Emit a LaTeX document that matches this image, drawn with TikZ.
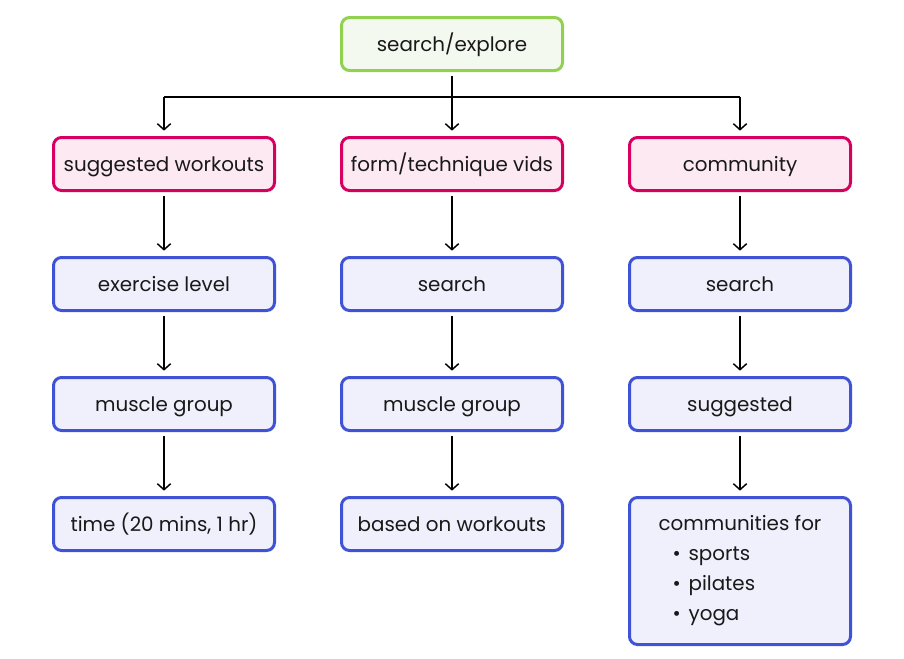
\documentclass[tikz,border=0pt]{standalone}
\usepackage{fontspec}
\setmainfont{Poppins}
\usetikzlibrary{arrows.meta}
\definecolor{gborder}{RGB}{146,208,80}
\definecolor{gfill}{RGB}{244,249,239}
\definecolor{pborder}{RGB}{214,0,94}
\definecolor{pfill}{RGB}{252,233,241}
\definecolor{bborder}{RGB}{64,82,214}
\definecolor{bfill}{RGB}{239,240,252}
\tikzset{
  box/.style={rounded corners=6pt, line width=2.25pt, minimum width=165.75pt, minimum height=39.75pt,
    inner sep=0pt, font=\fontsize{14.9}{22.5}\selectfont, text=black!90},
  onebox/.style={text height=14pt, text depth=2.75pt},
  gbox/.style={box, onebox, draw=gborder, fill=gfill},
  pbox/.style={box, onebox, draw=pborder, fill=pfill},
  bbox/.style={box, onebox, draw=bborder, fill=bfill},
  listbox/.style={box, draw=bborder, fill=bfill},
  conn/.style={line width=1.1pt, -{Straight Barb[length=4.5pt,width=10pt,line width=1.1pt]}, shorten <=3pt, shorten >=4pt},
  plain/.style={line width=1.1pt}
}
\begin{document}
\begin{tikzpicture}[x=0.75pt,y=-0.75pt]
\useasboundingbox (0,0) rectangle (904,658);
\node[gbox] (top) at (452,44) {search/explore};
\node[pbox] (l1) at (164,164) {suggested workouts};
\node[pbox] (m1) at (452,164) {form/technique vids};
\node[pbox] (r1) at (740,164) {community};
\node[bbox] (l2) at (164,284) {exercise level};
\node[bbox] (m2) at (452,284) {search};
\node[bbox] (r2) at (740,284) {search};
\node[bbox] (l3) at (164,404) {muscle group};
\node[bbox] (m3) at (452,404) {muscle group};
\node[bbox] (r3) at (740,404) {suggested};
\node[bbox] (l4) at (164,524) {time (20 mins, 1 hr)};
\node[bbox] (m4) at (452,524) {based on workouts};
\node[listbox, minimum height=110.25pt, align=left] (r4) at (740,571) {communities for\\
\hspace*{10.5pt}\makebox[12pt][l]{•}sports\\
\hspace*{10.5pt}\makebox[12pt][l]{•}pilates\\
\hspace*{10.5pt}\makebox[12pt][l]{•}yoga};
\coordinate (bus) at (452,97);
\coordinate (busl) at (164,97);
\coordinate (busr) at (740,97);
\draw[plain, shorten <=3pt] (top.south) -- (bus);
\draw[plain] (busl) -- (busr);
\draw[conn, shorten <=0pt] (busl) -- (l1.north);
\draw[conn, shorten <=0pt] (bus) -- (m1.north);
\draw[conn, shorten <=0pt] (busr) -- (r1.north);
\draw[conn] (l1) -- (l2);
\draw[conn] (l2) -- (l3);
\draw[conn] (l3) -- (l4);
\draw[conn] (m1) -- (m2);
\draw[conn] (m2) -- (m3);
\draw[conn] (m3) -- (m4);
\draw[conn] (r1) -- (r2);
\draw[conn] (r2) -- (r3);
\draw[conn] (r3) -- (r4);
\end{tikzpicture}
\end{document}
